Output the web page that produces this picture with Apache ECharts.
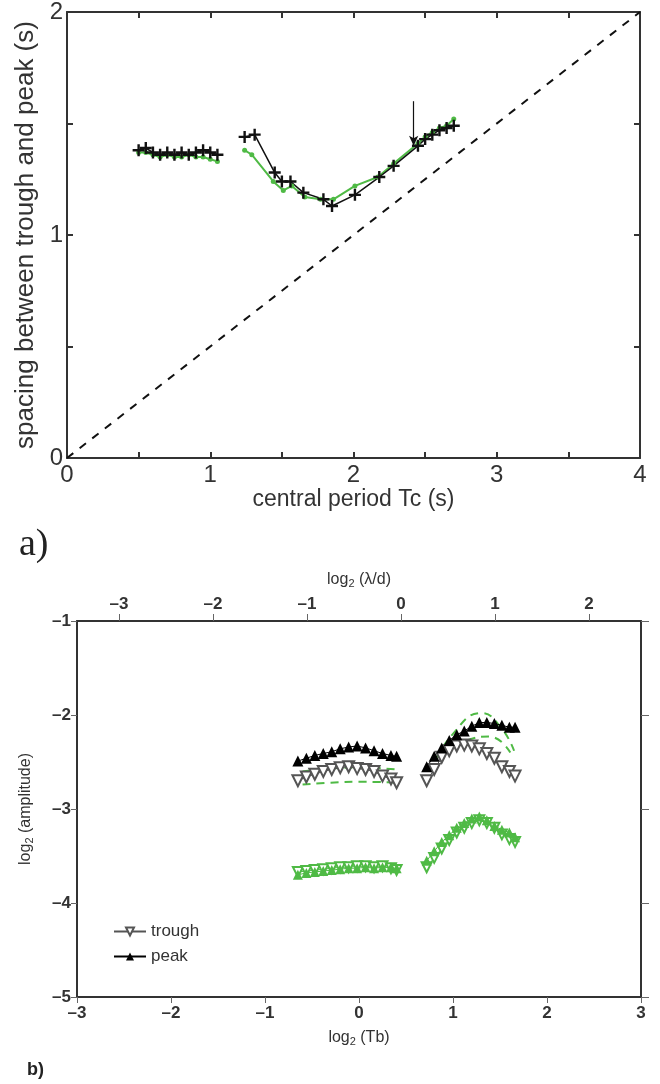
<!DOCTYPE html>
<html><head><meta charset="utf-8">
<script src="https://cdn.jsdelivr.net/npm/echarts@6/dist/echarts.min.js"></script>
<style>html,body{margin:0;padding:0;background:#fff}#c{width:660px;height:1084px}</style>
</head><body><div id="c"></div>
<script>
// ---------- panel a ----------
const aX1 = [0.50,0.55,0.60,0.65,0.70,0.75,0.80,0.85,0.90,0.95,1.00,1.05];
const aBlack1 = [1.38,1.39,1.37,1.36,1.37,1.36,1.37,1.36,1.37,1.38,1.37,1.36];
const aGreen1 = [1.37,1.37,1.36,1.35,1.36,1.35,1.35,1.36,1.35,1.35,1.34,1.33];
const aXB2 = [1.24,1.31,1.45,1.50,1.56,1.65,1.79,1.85,2.01,2.18,2.28,2.45,2.50,2.55,2.60,2.65,2.70];
const aBlack2 = [1.44,1.45,1.28,1.24,1.24,1.19,1.16,1.13,1.18,1.26,1.31,1.40,1.43,1.45,1.47,1.48,1.49];
const aXG2 = [1.24,1.29,1.44,1.51,1.57,1.66,1.77,1.86,2.01,2.17,2.28,2.45,2.50,2.55,2.60,2.65,2.70];
const aGreen2 = [1.38,1.36,1.24,1.20,1.22,1.17,1.16,1.16,1.22,1.26,1.32,1.41,1.44,1.46,1.48,1.49,1.52];
const aDiag = [[0,0],[4,2]];
const aArrowX = 2.42, aArrowFrom = 1.60, aArrowTo = 1.40;
const aXTicks = [0,1,2,3,4];
const aYTicks = [0,1,2];
// ---------- panel b ----------
const bXL = [-0.65,-0.56,-0.47,-0.38,-0.29,-0.20,-0.11,-0.02,0.07,0.16,0.25,0.34,0.40];
const bXR = [0.72,0.80,0.88,0.96,1.04,1.12,1.20,1.28,1.36,1.44,1.52,1.60,1.66];
const bPeakL = [-2.49,-2.46,-2.43,-2.41,-2.39,-2.36,-2.34,-2.33,-2.35,-2.38,-2.41,-2.43,-2.44];
const bTroughL = [-2.70,-2.66,-2.63,-2.60,-2.58,-2.56,-2.55,-2.57,-2.58,-2.60,-2.65,-2.68,-2.72];
const bPeakR = [-2.55,-2.44,-2.35,-2.27,-2.21,-2.17,-2.12,-2.08,-2.08,-2.09,-2.11,-2.13,-2.13];
const bTroughR = [-2.70,-2.58,-2.45,-2.38,-2.33,-2.32,-2.33,-2.36,-2.41,-2.46,-2.55,-2.60,-2.65];
const gPeakL = [-3.70,-3.68,-3.67,-3.66,-3.65,-3.64,-3.63,-3.63,-3.62,-3.63,-3.62,-3.62,-3.63];
const gTroughL = [-3.67,-3.66,-3.65,-3.64,-3.63,-3.62,-3.62,-3.61,-3.61,-3.62,-3.61,-3.63,-3.65];
const gPeakR = [-3.55,-3.45,-3.35,-3.28,-3.20,-3.15,-3.10,-3.08,-3.12,-3.18,-3.22,-3.25,-3.30];
const gTroughR = [-3.62,-3.52,-3.42,-3.33,-3.25,-3.20,-3.15,-3.12,-3.15,-3.20,-3.27,-3.32,-3.35];
const gDashX_L = [-0.60,-0.30,0.00,0.40];
const gDashUpL = [-2.60,-2.57,-2.56,-2.58];
const gDashLoL = [-2.74,-2.72,-2.71,-2.72];
const gDashX_R = [0.75,1.00,1.30,1.50,1.65];
const gDashUpR = [-2.60,-2.20,-1.98,-2.12,-2.38];
const gDashX_R2 = [0.90,1.15,1.39,1.61];
const gDashLoR = [-2.42,-2.27,-2.23,-2.40];
const bTopTicks = [-3,-2,-1,0,1,2];
const bTopOffset = 0.447;

const zip = (xs, ys) => xs.map((x,i)=>[x, ys[i]]);
const GREEN = '#4fba45', AX = '#333';
const minus = v => String(v).replace('-', '\u2013');
const plus = 'path://M4,0H6V4H10V6H6V10H4V6H0V4H4Z';

const axA = {fontFamily:'Liberation Sans Narrow, Liberation Sans', fontSize:24, color:'#333'};
const nameAx = {...axA, fontSize:23};
const nameAy = {...axA, fontSize:26};
const axB = {fontFamily:'Liberation Sans', fontSize:17, color:'#333', fontWeight:'bold'};
const lineA = {onZero:false, lineStyle:{color:AX,width:2}};
const tickA = {inside:true,length:6,lineStyle:{color:AX,width:2}};
const tickB = {inside:false,length:6,lineStyle:{color:'#666',width:1}};
const richB = {a:{...axB,fontSize:16,fontWeight:'normal'}, s:{...axB,fontSize:11,fontWeight:'normal',padding:[8,0,0,0]}};

const chart = echarts.init(document.getElementById('c'), null, {renderer:'canvas'});
chart.setOption({
  animation:false,
  grid:[
    {left:67, top:12, width:573, height:446},
    {left:77, top:621, width:564, height:376}
  ],
  xAxis:[
    {gridIndex:0, type:'value', min:0, max:4, interval:0.5, position:'bottom',
     axisLine:lineA, axisTick:tickA,
     axisLabel:{customValues:aXTicks, ...axA, margin:5}, splitLine:{show:false},
     name:'central period Tc (s)', nameLocation:'middle', nameGap:30, nameTextStyle:nameAx},
    {gridIndex:0, type:'value', min:0, max:4, interval:0.5, position:'top',
     axisLine:lineA, axisTick:tickA, axisLabel:{show:false}, splitLine:{show:false}},
    {gridIndex:1, type:'value', min:-3, max:3, interval:1, position:'bottom',
     axisLine:lineA, axisTick:tickB,
     axisLabel:{...axB, formatter:minus, margin:8}, splitLine:{show:false},
     name:'{a|log}{s|2}{a| (Tb)}', nameLocation:'middle', nameGap:31,
     nameTextStyle:{...axB, rich:richB}},
    {gridIndex:1, type:'value', min:-3-bTopOffset, max:3-bTopOffset, position:'top',
     axisLine:lineA, axisTick:{...tickB, customValues:bTopTicks, length:7},
     axisLabel:{customValues:bTopTicks, ...axB, formatter:minus, margin:8}, splitLine:{show:false},
     name:'{a|log}{s|2}{a| (\u03bb/d)}', nameLocation:'middle', nameGap:32,
     nameTextStyle:{...axB, rich:richB}}
  ],
  yAxis:[
    {gridIndex:0, type:'value', min:0, max:2, interval:0.5, position:'left',
     axisLine:lineA, axisTick:tickA,
     axisLabel:{customValues:aYTicks, ...axA, margin:4}, splitLine:{show:false},
     name:'spacing between trough and peak (s)', nameLocation:'middle', nameGap:27, nameTextStyle:nameAy},
    {gridIndex:0, type:'value', min:0, max:2, interval:0.5, position:'right',
     axisLine:lineA, axisTick:tickA, axisLabel:{show:false}, splitLine:{show:false}},
    {gridIndex:1, type:'value', min:-5, max:-1, interval:1, position:'left',
     axisLine:lineA, axisTick:tickB,
     axisLabel:{...axB, formatter:minus, margin:6}, splitLine:{show:false},
     name:'{a|log}{s|2}{a| (amplitude)}', nameLocation:'middle', nameGap:42,
     nameTextStyle:{...axB, rich:richB}},
    {gridIndex:1, type:'value', min:-5, max:-1, interval:1, position:'right',
     axisLine:lineA, axisTick:{...tickB, length:8}, axisLabel:{show:false}, splitLine:{show:false}}
  ],
  legend:{
    left:108, top:918, orient:'vertical', itemWidth:32, itemHeight:10, itemGap:8,
    data:['trough','peak'], textStyle:{...axB, fontSize:17, fontWeight:'normal'}, selectedMode:false
  },
  graphic:[
    {type:'text', left:19, top:526, style:{text:'a)', font:'38px Liberation Serif', fill:'#222'}},
    {type:'text', left:27, top:1061, style:{text:'b)', font:'bold 18px Liberation Sans', fill:'#222'}}
  ],
  series:[
    {type:'line', xAxisIndex:0, yAxisIndex:0, data:aDiag, symbol:'none',
     lineStyle:{color:'#111', width:2, type:[8,8]}},
    {type:'line', xAxisIndex:0, yAxisIndex:0, data:zip(aX1,aGreen1), symbol:'circle', symbolSize:5,
     lineStyle:{color:GREEN,width:2}, itemStyle:{color:GREEN}},
    {type:'line', xAxisIndex:0, yAxisIndex:0, data:zip(aXG2,aGreen2), symbol:'circle', symbolSize:5,
     lineStyle:{color:GREEN,width:2}, itemStyle:{color:GREEN}},
    {type:'line', xAxisIndex:0, yAxisIndex:0, data:zip(aX1,aBlack1), symbol:plus, symbolSize:12,
     lineStyle:{color:'#111',width:1.5}, itemStyle:{color:'#111'}},
    {type:'line', xAxisIndex:0, yAxisIndex:0, data:zip(aXB2,aBlack2), symbol:plus, symbolSize:12,
     lineStyle:{color:'#111',width:1.5}, itemStyle:{color:'#111'},
     markLine:{silent:true, symbol:['none','arrow'], symbolSize:[7,10], label:{show:false},
       lineStyle:{color:'#111',width:1.2,type:'solid'},
       data:[[{coord:[aArrowX,aArrowFrom]},{coord:[aArrowX,aArrowTo]}]]}},
    // panel b
    {type:'line', xAxisIndex:2, yAxisIndex:2, data:zip(gDashX_L,gDashUpL), smooth:true, symbol:'none', lineStyle:{color:GREEN,width:2,type:[8,6]}},
    {type:'line', xAxisIndex:2, yAxisIndex:2, data:zip(gDashX_L,gDashLoL), smooth:true, symbol:'none', lineStyle:{color:GREEN,width:2,type:[8,6]}},
    {type:'line', xAxisIndex:2, yAxisIndex:2, data:zip(gDashX_R,gDashUpR), smooth:true, symbol:'none', lineStyle:{color:GREEN,width:2,type:[8,6]}},
    {type:'line', xAxisIndex:2, yAxisIndex:2, data:zip(gDashX_R2,gDashLoR), smooth:true, symbol:'none', lineStyle:{color:GREEN,width:2,type:[8,6]}},
    {type:'line', xAxisIndex:2, yAxisIndex:2, data:zip(bXL,gTroughL), symbol:'emptyTriangle', symbolRotate:180, symbolSize:10,
     lineStyle:{color:GREEN,width:1}, itemStyle:{color:GREEN,borderColor:GREEN,borderWidth:1}},
    {type:'line', xAxisIndex:2, yAxisIndex:2, data:zip(bXR,gTroughR), symbol:'emptyTriangle', symbolRotate:180, symbolSize:10,
     lineStyle:{color:GREEN,width:1}, itemStyle:{color:GREEN,borderColor:GREEN,borderWidth:1}},
    {type:'line', xAxisIndex:2, yAxisIndex:2, data:zip(bXL,gPeakL), symbol:'triangle', symbolSize:10,
     lineStyle:{color:GREEN,width:1}, itemStyle:{color:GREEN}},
    {type:'line', xAxisIndex:2, yAxisIndex:2, data:zip(bXR,gPeakR), symbol:'triangle', symbolSize:10,
     lineStyle:{color:GREEN,width:1}, itemStyle:{color:GREEN}},
    {name:'trough', type:'line', xAxisIndex:2, yAxisIndex:2, data:zip(bXL,bTroughL), symbol:'emptyTriangle', symbolRotate:180, symbolSize:11,
     lineStyle:{color:'#555',width:1}, itemStyle:{color:'#555',borderColor:'#444',borderWidth:1}},
    {name:'trough', type:'line', xAxisIndex:2, yAxisIndex:2, data:zip(bXR,bTroughR), symbol:'emptyTriangle', symbolRotate:180, symbolSize:11,
     lineStyle:{color:'#555',width:1}, itemStyle:{color:'#555',borderColor:'#444',borderWidth:1}},
    {name:'peak', type:'line', xAxisIndex:2, yAxisIndex:2, data:zip(bXL,bPeakL), symbol:'triangle', symbolSize:11,
     lineStyle:{color:'#000',width:1}, itemStyle:{color:'#000'}},
    {name:'peak', type:'line', xAxisIndex:2, yAxisIndex:2, data:zip(bXR,bPeakR), symbol:'triangle', symbolSize:11,
     lineStyle:{color:'#000',width:1}, itemStyle:{color:'#000'}}
  ]
});
</script></body></html>
